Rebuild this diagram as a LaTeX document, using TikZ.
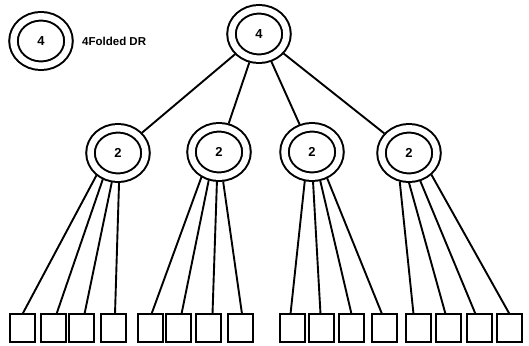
\documentclass[tikz,border=0pt]{standalone}
\usepackage{fontspec}
\setmainfont{Liberation Sans}
\usetikzlibrary{shapes.geometric}
\begin{document}
\begin{tikzpicture}[x=1pt,y=-1pt,
  ring/.style={ellipse, draw, double, double distance=6.5pt, line width=2pt,
    minimum width=55pt, minimum height=49.5pt, inner sep=0pt, outer sep=5pt,
    font=\bfseries\fontsize{13}{13}\selectfont},
  leaf/.style={draw, line width=2pt, minimum width=25pt, minimum height=28pt,
    inner sep=0pt, outer sep=0pt},
  edge/.style={line width=1.9pt},
  legendtext/.style={font=\bfseries\fontsize{11.5}{12}\selectfont, anchor=west, inner sep=0pt}]
\fill[white] (0,0) rectangle (529,345);
\useasboundingbox (0,0) rectangle (529,345);
% legend
\node[ring] (leg) at (41,41) {4};
\node[legendtext] (legtxt) at (82,41) {4Folded DR};
% tree
\node[ring] (top) at (259,34) {4};
\node[ring] (n1) at (118,153) {2};
\node[ring] (n2) at (219,152) {2};
\node[ring] (n3) at (312,152) {2};
\node[ring] (n4) at (409,153) {2};
\foreach \i in {1,...,4} \draw[edge] (top) -- (n\i);
% leaves
\foreach \x [count=\k] in {22.5,53.5,81.5,113,150.5,178.5,208.5,240,292.5,321.5,351.5,384,418.5,448.5,479.5,509.5}
  \node[leaf] (b\k) at (\x,328) {};
% connectors
\foreach \n/\a/\b/\s in {
  1/226/1/0, 1/240/2/3, 1/258/3/3, 1/272/4/2,
  2/235/5/1, 2/250/6/3, 2/266/7/4, 2/278/8/2,
  3/256/9/-2, 3/272/10/-1, 3/286/11/0, 3/300/12/-2,
  4/252/13/-5, 4/270/14/-3, 4/292/15/-4, 4/316/16/0}
  \draw[edge] (n\n.\a) -- ([xshift=\s pt]b\b.north);
\end{tikzpicture}
\end{document}
